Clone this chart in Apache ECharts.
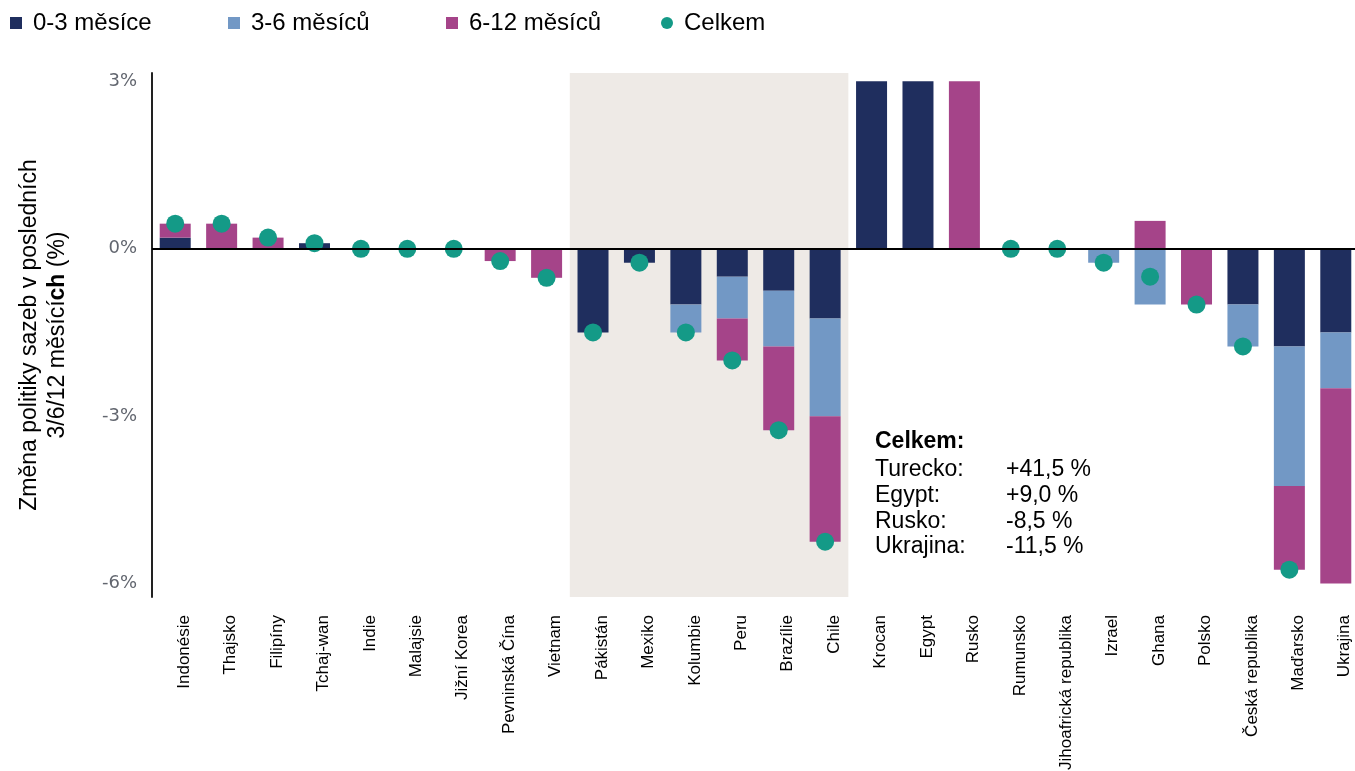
<!DOCTYPE html>
<html lang="cs">

<head>
    <meta charset="UTF-8">
    <title>Změna politiky sazeb</title>
    <script src="https://cdn.jsdelivr.net/npm/echarts@6/dist/echarts.min.js"></script>
    <style>
        html, body {
            margin: 0;
            padding: 0;
            background-color: #ffffff;
        }

        #chart {
            width: 1355px;
            height: 771px;
        }
    </style>
</head>

<body>
    <div id="chart"></div>

    <script>
        // Categories (countries)
        var countries = ['Indonésie', 'Thajsko', 'Filipíny', 'Tchaj-wan', 'Indie', 'Malajsie', 'Jižní Korea',
            'Pevninská Čína', 'Vietnam', 'Pákistán', 'Mexiko', 'Kolumbie', 'Peru', 'Brazílie', 'Chile',
            'Krocan', 'Egypt', 'Rusko', 'Rumunsko', 'Jihoafrická republika', 'Izrael', 'Ghana', 'Polsko',
            'Česká republika', 'Maďarsko', 'Ukrajina'];

        // Rate change in each window (percentage points)
        var m0to3 = [0.2, 0, 0, 0.1, 0, 0, 0, 0, 0, -1.5, -0.25, -1.0, -0.5, -0.75, -1.25,
            3, 3, 0, 0, 0, 0, 0, 0, -1.0, -1.75, -1.5];
        var m3to6 = [0, 0, 0, 0, 0, 0, 0, 0, 0, 0, 0, -0.5, -0.75, -1.0, -1.75,
            0, 0, 0, 0, 0, -0.25, -1.0, 0, -0.75, -2.5, -1.0];
        var m6to12 = [0.25, 0.45, 0.2, 0, 0, 0, 0, -0.22, -0.52, 0, 0, 0, -0.75, -1.5, -2.25,
            0, 0, 3, 0, 0, 0, 0.5, -1.0, 0, -1.5, -3.5];
        // Total (dots); off-scale totals are left out
        var totals = [0.45, 0.45, 0.2, 0.1, 0, 0, 0, -0.22, -0.52, -1.5, -0.25, -1.5, -2.0, -3.25, -5.25,
            null, null, null, 0, 0, -0.25, -0.5, -1.0, -1.75, -5.75, null];

        // Shaded group of countries
        var shadedFrom = 'Pákistán';
        var shadedTo = 'Chile';

        // Y tick values
        var yTicks = [-6, -3, 0, 3];

        // Text box with off-scale totals
        var noteTitle = 'Celkem:';
        var noteNames = ['Turecko:', 'Egypt:', 'Rusko:', 'Ukrajina:'];
        var noteValues = ['+41,5 %', '+9,0 %', '-8,5 %', '-11,5 %'];

        var seriesNames = ['0-3 měsíce', '3-6 měsíců', '6-12 měsíců', 'Celkem'];
        var colors = ['#1f2e5e', '#7298c5', '#a54489', '#149a87'];

        var FONT = '"Liberation Sans", Arial, sans-serif';

        var chart = echarts.init(document.getElementById('chart'));

        // One legend per item so each sits where it does in the original
        var legendLeft = [10, 228, 446, 661];
        var legends = seriesNames.map(function (name, i) {
            return {
                data: [name],
                left: legendLeft[i],
                top: 11,
                padding: 0,
                itemWidth: 12,
                itemHeight: 12,
                icon: i < 3 ? 'rect' : 'circle',
                selectedMode: false,
                textStyle: {
                    fontFamily: FONT,
                    fontSize: 24,
                    color: '#000',
                    padding: [0, 0, 0, 6]
                }
            };
        });

        // Note box
        var noteGraphics = [{
            type: 'text',
            x: 875,
            y: 442,
            style: {
                text: noteTitle,
                font: 'bold 23px ' + FONT,
                fill: '#000',
                verticalAlign: 'middle'
            }
        }];
        noteNames.forEach(function (n, i) {
            noteGraphics.push({
                type: 'text',
                x: 875,
                y: 470 + i * 25.7,
                style: { text: n, font: '23px ' + FONT, fill: '#000', verticalAlign: 'middle' }
            });
            noteGraphics.push({
                type: 'text',
                x: 1006,
                y: 470 + i * 25.7,
                style: { text: noteValues[i], font: '23px ' + FONT, fill: '#000', verticalAlign: 'middle' }
            });
        });

        function barSeries(idx, data) {
            return {
                name: seriesNames[idx],
                type: 'bar',
                stack: 'total',
                barWidth: 31,
                data: data,
                itemStyle: { color: colors[idx] },
                z: 2
            };
        }

        var s0 = barSeries(0, m0to3);
        s0.markArea = {
            silent: true,
            itemStyle: { color: '#eeeae6' },
            data: [[{ xAxis: shadedFrom }, { xAxis: shadedTo }]]
        };
        s0.markLine = {
            silent: true,
            symbol: 'none',
            label: { show: false },
            lineStyle: { color: '#000', width: 2, type: 'solid' },
            data: [{ yAxis: 0 }]
        };

        var option = {
            animation: false,
            backgroundColor: '#ffffff',
            legend: legends,
            graphic: noteGraphics,
            grid: {
                left: 152,
                top: 73,
                width: 1207,
                height: 524,
                outerBoundsMode: 'none',
                containLabel: false
            },
            xAxis: {
                type: 'category',
                data: countries,
                axisLine: { show: false, onZero: false },
                axisTick: { show: false },
                axisLabel: {
                    interval: 0,
                    rotate: 90,
                    margin: 18,
                    fontFamily: FONT,
                    fontSize: 17,
                    color: '#000',
                    // labels sit a little right of the bars in the original
                    verticalAlign: 'top',
                    lineHeight: 18
                }
            },
            yAxis: {
                type: 'value',
                min: -6.24,
                max: 3.15,
                splitLine: { show: false },
                axisTick: { show: false },
                axisLine: { show: true, lineStyle: { color: '#222', width: 2 } },
                axisLabel: {
                    customValues: yTicks,
                    margin: 15,
                    fontFamily: '"DejaVu Sans", sans-serif',
                    fontSize: 18,
                    color: '#62666f',
                    formatter: function (v) { return v + '%'; }
                },
                name: 'Změna politiky sazeb v posledních\n3/6/12 měsící{b|ch} (%)',
                nameLocation: 'middle',
                nameGap: 80,
                nameTextStyle: {
                    fontFamily: FONT,
                    fontSize: 23,
                    color: '#000',
                    lineHeight: 28,
                    rich: {
                        b: { fontFamily: FONT, fontSize: 23, fontWeight: 'bold', color: '#000', lineHeight: 28 }
                    }
                }
            },
            series: [
                s0,
                barSeries(1, m3to6),
                barSeries(2, m6to12),
                {
                    name: seriesNames[3],
                    type: 'scatter',
                    data: totals,
                    symbol: 'circle',
                    symbolSize: 18,
                    itemStyle: { color: colors[3], opacity: 1 },
                    z: 4
                }
            ]
        };

        chart.setOption(option);
    </script>
</body>

</html>
